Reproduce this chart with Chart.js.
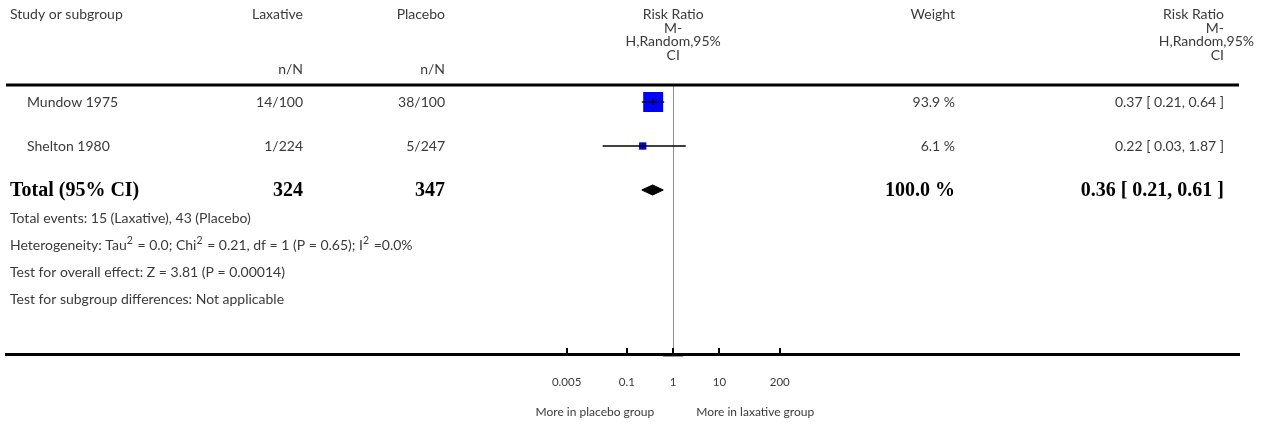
<!DOCTYPE html>
<html><head><meta charset="utf-8">
<script src="https://cdn.jsdelivr.net/npm/chart.js@4"></script>
<style>html,body{margin:0;padding:0;background:#fff}#wrap{width:1266px;height:425px;position:relative}</style>
</head><body><div id="wrap"><canvas id="c"></canvas></div>
<script>
// ---- data ----
const studies = ['Mundow 1975', 'Shelton 1980'];
const laxativeNN = ['14/100', '1/224'];
const placeboNN = ['38/100', '5/247'];
const riskRatio = [0.37, 0.22];
const ciLow = [0.21, 0.03];
const ciHigh = [0.64, 1.87];
const weights = [93.9, 6.1];
const totalLabel = 'Total (95% CI)';
const totalLaxative = '324';
const totalPlacebo = '347';
const totalRR = 0.36, totalLow = 0.21, totalHigh = 0.61, totalWeight = 100.0;
const tickValues = [0.005, 0.1, 1, 10, 200];
const tickLabels = ['0.005', '0.1', '1', '10', '200'];
// footnote segments: [text, isSuperscript]
const footnotes = [
  [['Total events: 15 (Laxative), 43 (Placebo)', false]],
  [['Heterogeneity: Tau', false], ['2', true], [' = 0.0; Chi', false], ['2', true], [' = 0.21, df = 1 (P = 0.65); I', false], ['2', true], [' =0.0%', false]],
  [['Test for overall effect: Z = 3.81 (P = 0.00014)', false]],
  [['Test for subgroup differences: Not applicable', false]]
];
const leftAxisTitle = 'More in placebo group';
const rightAxisTitle = 'More in laxative group';

// ---- config ----
const SANS = 'Lato, "Open Sans", sans-serif';
const SERIF = '"Liberation Serif", "DejaVu Serif", serif';
const TXT = '#3a3a3a';
const fmt2 = v => v.toFixed(2);
const ciText = (r, l, h) => fmt2(r) + ' [ ' + fmt2(l) + ', ' + fmt2(h) + ' ]';

const datasets = [];
studies.forEach((s, i) => {
  datasets.push({
    label: s + ' CI', showLine: true, order: 1,
    data: [{x: ciLow[i], y: i}, {x: riskRatio[i], y: i}, {x: ciHigh[i], y: i}],
    borderColor: '#000', borderWidth: 1.4,
    pointRadius: [0, 3, 0], pointStyle: 'line', rotation: 90,
    pointBorderColor: '#000', pointBorderWidth: 1.2, pointHoverRadius: 0
  });
});
datasets.push({
  label: 'squares', order: 2,
  data: studies.map((s, i) => ({x: riskRatio[i], y: i})),
  pointStyle: 'rect',
  pointRadius: studies.map((s, i) => (3 + 17.5 * Math.sqrt(weights[i] / 100)) / (2 * Math.SQRT1_2)),
  backgroundColor: '#0000ff', borderColor: '#0000ff', borderWidth: 0
});
const totRow = studies.length;
const dH = 0.115;
datasets.push({
  label: 'total', showLine: true, order: 1, fill: 'shape',
  data: [{x: totalLow, y: totRow}, {x: totalRR, y: totRow - dH}, {x: totalHigh, y: totRow}, {x: totalRR, y: totRow + dH}, {x: totalLow, y: totRow}],
  borderColor: '#000', backgroundColor: '#000', borderWidth: 1, pointRadius: 0, tension: 0
});

const tablePlugin = {
  id: 'table',
  beforeDatasetsDraw(chart) {
    const {ctx, chartArea: a, scales: {x}} = chart;
    const px = Math.round(x.getPixelForValue(1)) + 0.5;
    ctx.save();
    ctx.strokeStyle = '#8c8c8c'; ctx.lineWidth = 1;
    ctx.beginPath(); ctx.moveTo(px, a.top); ctx.lineTo(px, a.bottom); ctx.stroke();
    ctx.restore();
  },
  afterDraw(chart) {
    const {ctx, chartArea: a, scales: {x, y}} = chart;
    ctx.save();
    ctx.strokeStyle = '#000'; ctx.lineWidth = 3;
    ctx.beginPath(); ctx.moveTo(a.left, 85); ctx.lineTo(a.right, 85); ctx.stroke();
    ctx.lineWidth = 2;
    tickValues.forEach(v => {
      const p = Math.round(x.getPixelForValue(v));
      ctx.beginPath(); ctx.moveTo(p, a.bottom - 6); ctx.lineTo(p, a.bottom); ctx.stroke();
    });
    const c1 = x.getPixelForValue(1);
    ctx.strokeStyle = '#9a9a9a'; ctx.lineWidth = 1;
    ctx.beginPath(); ctx.moveTo(c1 - 10, a.bottom + 2.5); ctx.lineTo(c1 + 10, a.bottom + 2.5); ctx.stroke();

    const text = (t, xx, yy, align, font, color) => {
      ctx.font = font; ctx.fillStyle = color || TXT; ctx.textAlign = align; ctx.textBaseline = 'middle';
      ctx.fillText(t, xx, yy);
    };
    const f = '14px ' + SANS;
    const fb = 'bold 20px ' + SERIF;
    const cx = c1;
    text('Study or subgroup', 10, 14, 'left', f);
    text('Laxative', 303, 14, 'right', f);
    text('n/N', 303, 69, 'right', f);
    text('Placebo', 445, 14, 'right', f);
    text('n/N', 445, 69, 'right', f);
    text('Risk Ratio', cx, 14, 'center', f);
    text('M-', cx, 28, 'center', f);
    text('H,Random,95%', cx, 41, 'center', f);
    text('CI', cx, 55, 'center', f);
    text('Weight', 955, 14, 'right', f);
    text('Risk Ratio', 1224, 14, 'right', f);
    text('M-', 1224, 28, 'right', f);
    text('H,Random,95%', 1254, 41, 'right', f);
    text('CI', 1224, 55, 'right', f);
    studies.forEach((s, i) => {
      const yy = y.getPixelForValue(i);
      text(s, 27, yy, 'left', f);
      text(laxativeNN[i], 303, yy, 'right', f);
      text(placeboNN[i], 445, yy, 'right', f);
      text(weights[i].toFixed(1) + ' %', 955, yy, 'right', f);
      text(ciText(riskRatio[i], ciLow[i], ciHigh[i]), 1224, yy, 'right', f);
    });
    const ty = y.getPixelForValue(totRow) + 1;
    text(totalLabel, 10, ty, 'left', fb, '#000');
    text(totalLaxative, 303, ty, 'right', fb, '#000');
    text(totalPlacebo, 445, ty, 'right', fb, '#000');
    text(totalWeight.toFixed(1) + ' %', 955, ty, 'right', fb, '#000');
    text(ciText(totalRR, totalLow, totalHigh), 1224, ty, 'right', fb, '#000');
    footnotes.forEach((segs, i) => {
      let xx = 10; const yy = 218 + 27 * i;
      segs.forEach(([t, sup]) => {
        const font = sup ? '10.5px ' + SANS : f;
        ctx.font = font; ctx.fillStyle = TXT; ctx.textAlign = 'left'; ctx.textBaseline = 'middle';
        ctx.fillText(t, xx, sup ? yy - 4 : yy);
        xx += ctx.measureText(t).width + (sup ? 1 : 0);
      });
    });
    text(leftAxisTitle, cx - 19, 412, 'right', '12px ' + SANS);
    text(rightAxisTitle, cx + 23, 412, 'left', '12px ' + SANS);
    ctx.restore();
  }
};

new Chart(document.getElementById('c'), {
  type: 'scatter',
  data: {datasets},
  options: {
    responsive: true, maintainAspectRatio: false, animation: false,
    layout: {autoPadding: false, padding: {left: 6, right: 27, top: 86, bottom: 0}},
    plugins: {legend: {display: false}, tooltip: {enabled: false}},
    scales: {
      x: {
        type: 'logarithmic', min: 3.9e-15, max: 1.66e12,
        afterBuildTicks: s => { s.ticks = tickValues.map(v => ({value: v})); },
        afterFit: s => { s.height = 425 - 354; s.paddingLeft = 0; s.paddingRight = 0; },
        ticks: {
          autoSkip: false, maxRotation: 0, padding: 21,
          font: {size: 11.5, family: SANS}, color: TXT,
          callback: (v, i) => tickLabels[i]
        },
        grid: {display: true, drawOnChartArea: false, drawTicks: false},
        border: {display: true, color: '#000', width: 3}
      },
      y: {
        type: 'linear', reverse: true, display: false,
        min: -16 / 44, max: -16 / 44 + 268 / 44,
        afterFit: s => { s.width = 0; s.paddingTop = 0; s.paddingBottom = 0; }
      }
    }
  },
  plugins: [tablePlugin]
});
</script></body></html>
